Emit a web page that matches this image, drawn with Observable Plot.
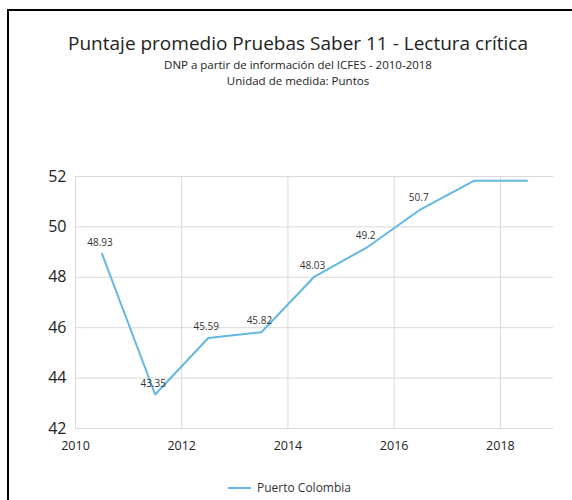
<!DOCTYPE html>
<html>
<head>
<meta charset="utf-8">
<script src="https://cdn.jsdelivr.net/npm/d3@7"></script>
<script src="https://cdn.jsdelivr.net/npm/@observablehq/plot@0.6"></script>
<style>
  html, body { margin: 0; padding: 0; background: #fff; width: 572px; height: 500px; overflow: hidden; }
  body { font-family: "Open Sans", "Noto Sans", sans-serif; position: relative; }
  #frame { position: absolute; left: 7px; top: 9px; width: 580px; height: 600px; border: 2px solid #000; box-sizing: border-box; }
  .t { position: absolute; left: 0; width: 596px; text-align: center; color: #222; white-space: nowrap; }
  #title { top: 30px; font-size: 19px; }
  #sub1 { top: 57px; font-size: 11.5px; }
  #sub2 { top: 73px; font-size: 11.5px; }
  #chart { position: absolute; left: 0; top: 150px; }
  #legend { position: absolute; top: 479px; left: 228px; font-size: 12px; color: #333; display: flex; align-items: center; }
  #legend .sw { display: inline-block; width: 23px; height: 2px; margin-right: 6px; }
</style>
</head>
<body>
<div id="frame"></div>
<div id="title" class="t">Puntaje promedio Pruebas Saber 11 - Lectura crítica</div>
<div id="sub1" class="t">DNP a partir de información del ICFES - 2010-2018</div>
<div id="sub2" class="t">Unidad de medida: Puntos</div>
<div id="chart"></div>
<div id="legend"><span class="sw"></span><span id="legname"></span></div>
<script>
const years = [2010, 2011, 2012, 2013, 2014, 2015, 2016, 2017, 2018];
const values = [48.93, 43.35, 45.59, 45.82, 48.03, 49.2, 50.7, 51.83, 51.83];
const labels = ["48.93", "43.35", "45.59", "45.82", "48.03", "49.2", "50.7", "", ""];
const seriesName = "Puerto Colombia";
const xTicks = [2010, 2012, 2014, 2016, 2018];
const yTicks = [42, 44, 46, 48, 50, 52];
const lineColor = "#62b8e2";

const data = years.map((y, i) => ({ x: y + 0.5, v: values[i], label: labels[i] }));

const chart = Plot.plot({
  width: 572,
  height: 310,
  marginLeft: 75,
  marginRight: 19,
  marginTop: 26,
  marginBottom: 32,
  style: { fontFamily: "Open Sans, Noto Sans, sans-serif", color: "#222", background: "transparent" },
  x: { domain: [2010, 2019], ticks: xTicks, tickFormat: d => String(d), label: null, tickSize: 0, tickPadding: 13 },
  y: { domain: [42, 52], ticks: yTicks, label: null, tickSize: 0, tickPadding: 9 },
  marks: [
    Plot.gridX(xTicks, { stroke: "#d9d9d9", strokeOpacity: 1, strokeWidth: 1 }),
    Plot.gridY(yTicks, { stroke: "#d9d9d9", strokeOpacity: 1, strokeWidth: 1 }),
    Plot.axisX({ ticks: xTicks, tickFormat: d => String(d), tickSize: 0, tickPadding: 13, fontSize: 12.5, label: null }),
    Plot.axisY({ ticks: yTicks, tickSize: 0, tickPadding: 9, fontSize: 16, label: null }),
    Plot.line(data, { x: "x", y: "v", stroke: lineColor, strokeWidth: 2 }),
    Plot.text(data.filter(d => d.label !== ""), { x: "x", y: "v", text: "label", dy: -11, dx: -2, fontSize: 10, fill: "#333" })
  ]
});
document.getElementById("chart").appendChild(chart);
document.querySelector("#legend .sw").style.background = lineColor;
document.getElementById("legname").textContent = seriesName;
</script>
</body>
</html>
